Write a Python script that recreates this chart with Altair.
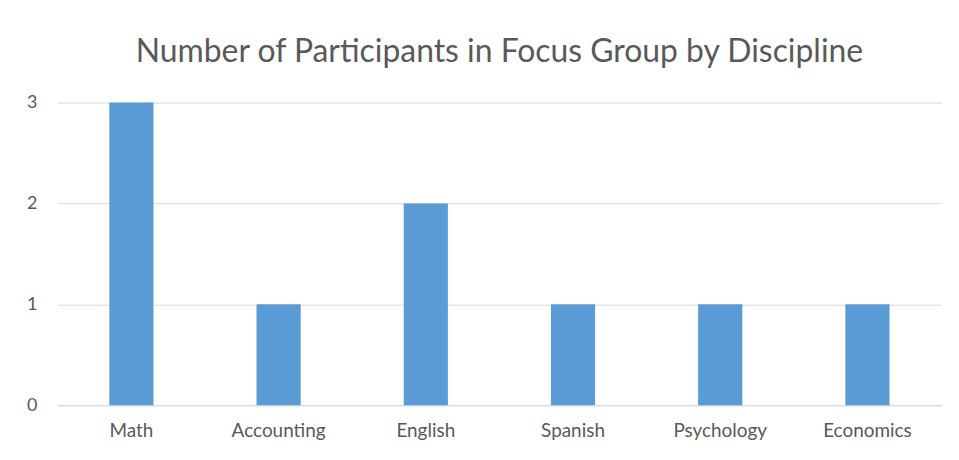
import altair as alt
import pandas as pd

disciplines = ["Math", "Accounting", "English", "Spanish", "Psychology", "Economics"]
participants = [3, 1, 2, 1, 1, 1]

df = pd.DataFrame({"Discipline": disciplines, "Participants": participants})

chart = alt.Chart(df).mark_bar(color="#5B9BD5").encode(
    x=alt.X("Discipline:N", sort=disciplines, title=None,
            scale=alt.Scale(paddingInner=0.7, paddingOuter=0.35),
            axis=alt.Axis(labelAngle=0, domain=True, domainColor="#D9D9D9", ticks=False,
                          labelPadding=16, labelFontSize=19, labelColor="#595959",
                          labelFont="Lato", grid=False)),
    y=alt.Y("Participants:Q", title=None,
            scale=alt.Scale(domain=[0, 3], nice=False),
            axis=alt.Axis(values=[0, 1, 2, 3], format="d", domain=False, ticks=False,
                          labelPadding=21, labelFontSize=18, labelColor="#595959",
                          labelFont="Lato", gridColor="#D9D9D9")),
).properties(
    width=887, height=304,
    title=alt.TitleParams("Number of Participants in Focus Group by Discipline",
                          font="Lato", fontSize=32, fontWeight="normal", color="#595959",
                          anchor="middle", baseline="alphabetic", offset=0),
    autosize=alt.AutoSizeParams(type="none"),
    padding={"left": 50, "top": 94, "right": 10, "bottom": 50},
).configure_view(stroke=None)

chart.save("out.html", embed_options={"renderer": "svg", "actions": False})
